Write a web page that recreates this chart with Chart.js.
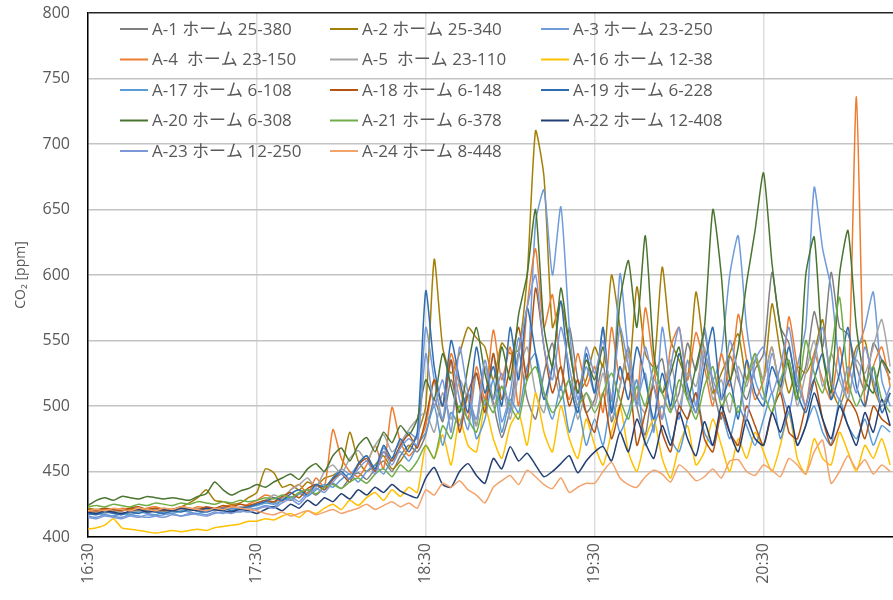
<!DOCTYPE html>
<html>
<head>
<meta charset="utf-8">
<script src="https://cdn.jsdelivr.net/npm/chart.js@4.4.1/dist/chart.umd.min.js"></script>
<style>
html,body{margin:0;padding:0;background:#fff;}
#wrap{width:893px;height:600px;position:relative;}
</style>
</head>
<body>
<div id="wrap"><canvas id="c" width="893" height="600"></canvas></div>
<script>
// time axis: minutes after 16:30, one reading every 3 minutes
const startLabel = "16:30";
const stepMinutes = 3;
const tickLabels = ["16:30", "17:30", "18:30", "19:30", "20:30"];

const seriesNames = [
  "A-1 ホーム 25-380", "A-2 ホーム 25-340", "A-3 ホーム 23-250",
  "A-4  ホーム 23-150", "A-5  ホーム 23-110", "A-16 ホーム 12-38",
  "A-17 ホーム 6-108", "A-18 ホーム 6-148", "A-19 ホーム 6-228",
  "A-20 ホーム 6-308", "A-21 ホーム 6-378", "A-22 ホーム 12-408",
  "A-23 ホーム 12-250", "A-24 ホーム 8-448"
];

const a1 = [420,421,420,419,421,420,420,421,419,420,421,422,420,421,422,421,422,423,422,424,
  425,427,426,430,428,433,436,432,438,441,437,445,449,444,452,458,450,462,470,465,
  478,505,488,520,496,510,485,530,502,476,498,541,506,490,525,548,512,560,520,495,
  505,532,488,515,545,500,478,522,536,497,510,548,527,556,515,490,538,520,505,528,
  540,602,560,548,515,530,572,545,602,560,555,530,512,548,535,520];
const a2 = [422,421,422,420,421,422,421,420,421,422,421,423,426,430,436,428,427,425,426,430,
  434,452,449,438,440,436,442,439,445,447,452,480,458,450,455,462,452,458,468,478,
  500,612,545,525,540,560,552,545,520,548,540,543,598,710,675,560,580,545,510,520,
  545,530,600,560,520,591,540,530,606,550,535,520,587,540,510,525,540,555,520,535,
  520,578,540,510,530,525,540,566,515,500,520,545,550,515,500,510];
const a3 = [416,415,417,416,415,417,416,415,416,417,418,416,417,418,417,419,418,420,419,421,
  422,424,423,428,431,427,434,440,436,445,452,448,455,462,450,468,458,470,480,475,
  560,520,490,535,505,482,525,500,540,488,510,552,520,640,665,600,652,560,505,530,
  510,560,495,601,540,505,525,480,560,515,490,535,500,560,520,540,600,630,560,520,
  505,540,515,495,530,560,667,620,590,530,505,540,560,587,520,500];
const a4 = [420,419,421,420,422,421,420,422,423,421,420,422,421,423,422,421,423,424,422,425,
  428,432,430,427,436,440,433,445,438,482,460,450,446,455,470,452,499,472,462,470,
  485,520,500,540,515,490,530,505,558,520,545,500,575,620,560,585,530,505,540,515,
  530,495,560,520,540,505,575,530,490,545,560,520,556,530,500,540,515,570,535,505,
  520,545,510,568,530,500,540,520,505,545,510,736,500,530,545,515];
const a5 = [418,419,418,420,419,418,420,419,421,420,419,421,420,422,421,420,422,421,423,422,
  425,428,432,430,436,440,445,438,450,455,448,460,466,458,470,478,465,472,482,490,
  495,480,510,490,520,505,485,530,500,515,490,525,545,510,495,530,505,520,490,510,
  500,525,490,515,540,505,495,520,510,535,500,525,515,545,505,520,495,530,515,540,
  520,545,510,535,500,525,550,515,540,520,505,535,525,545,566,530];
const a16 = [406,407,409,414,407,406,405,404,403,404,405,404,405,406,405,407,408,409,410,412,
  412,414,413,416,418,415,420,418,422,425,421,428,424,430,434,428,436,431,438,434,
  470,460,478,455,490,470,465,500,475,460,485,495,470,510,480,465,500,475,460,490,
  470,455,480,500,465,450,475,490,460,445,470,485,455,465,490,470,450,475,460,480,
  465,450,470,495,460,448,475,460,455,480,465,450,470,460,475,455];
const a17 = [417,418,417,416,418,417,419,418,417,419,418,420,419,418,420,421,420,422,421,423,
  424,426,425,428,430,433,431,436,440,438,444,448,442,450,455,448,460,465,458,470,
  480,500,470,495,485,510,475,490,520,480,505,495,530,540,510,490,515,480,500,470,
  490,470,505,480,495,520,470,485,500,475,465,490,510,480,470,495,475,500,485,470,
  490,510,475,495,470,485,500,480,470,505,485,475,490,470,485,480];
const a18 = [421,420,422,421,420,422,423,421,422,420,421,423,422,421,423,422,424,423,425,424,
  426,428,427,431,434,430,437,440,436,444,448,442,455,460,450,465,458,470,478,468,
  490,520,500,535,480,510,525,495,540,505,530,560,520,590,545,510,530,500,520,495,
  480,510,475,500,525,470,495,515,480,465,500,490,510,475,465,495,480,470,500,485,
  470,495,510,480,475,500,520,490,470,485,505,495,475,500,490,485];
const a19 = [418,417,419,418,417,419,418,420,419,418,420,419,421,420,419,421,422,420,422,423,
  425,427,430,428,433,436,432,440,438,445,450,444,456,462,452,470,460,475,465,480,
  588,530,500,550,520,495,545,510,530,500,560,520,575,540,505,530,580,520,495,540,
  510,560,495,530,505,545,520,490,525,500,540,515,495,530,560,505,520,490,535,510,
  500,530,515,545,510,495,520,540,505,525,560,515,500,530,495,510];
const a20 = [424,428,430,428,431,430,429,431,430,429,430,429,428,431,433,442,436,432,435,437,
  440,438,442,445,448,444,452,456,450,462,468,458,470,476,465,480,472,485,478,490,
  520,505,540,515,495,530,560,525,505,545,520,570,600,650,560,530,590,545,510,535,
  520,545,505,580,611,560,630,540,510,525,545,505,530,560,650,600,520,545,594,634,
  678,609,560,530,505,600,629,540,510,600,634,560,520,510,535,525];
const a21 = [423,424,423,425,424,423,425,424,426,425,424,426,425,427,426,425,427,426,428,427,
  428,430,429,432,430,434,436,433,438,440,437,442,445,441,448,452,446,455,450,458,
  470,460,485,475,500,490,480,505,495,515,500,490,520,530,510,495,505,520,500,510,
  495,510,525,505,490,515,500,530,510,495,520,505,490,515,530,500,510,495,520,540,
  510,495,520,535,505,550,525,510,540,583,520,500,515,530,505,495];
const a22 = [419,418,420,419,418,420,421,419,420,421,420,422,421,420,422,421,420,419,421,420,
  418,421,423,420,425,422,428,424,430,427,433,429,436,432,438,434,440,435,432,430,
  445,453,440,438,450,456,447,441,460,452,469,458,464,455,446,450,456,462,449,458,
  465,469,458,480,465,490,472,460,485,470,495,475,462,488,470,500,480,465,490,475,
  470,495,480,500,470,485,510,490,475,500,485,470,495,480,505,485];
const a23 = [415,414,416,415,414,416,415,417,416,415,417,416,418,417,416,418,419,418,420,419,
  421,423,422,426,429,425,432,437,434,442,448,444,452,458,448,465,455,468,475,470,
  540,500,520,480,545,510,490,535,505,525,495,540,575,600,545,520,560,530,500,545,
  525,550,505,560,530,500,545,515,490,530,560,510,495,540,520,505,550,525,490,535,
  545,510,530,560,520,500,535,560,520,505,530,510,545,520,500,515];
const a24 = [420,421,420,422,421,420,422,421,420,422,421,423,422,421,420,422,421,423,422,421,
  420,418,417,419,416,418,420,417,419,421,418,420,422,425,421,424,427,423,426,422,
  436,432,441,438,443,436,432,426,438,443,447,440,451,446,440,437,445,434,438,441,
  441,450,457,445,440,438,446,451,448,442,455,450,443,446,452,445,458,459,450,447,
  455,451,446,460,455,448,465,474,441,450,462,452,459,448,455,450];

const seriesValues = [a1,a2,a3,a4,a5,a16,a17,a18,a19,a20,a21,a22,a23,a24];

const seriesColors = ["#7f7f7f","#a57f05","#6f9bdb","#ed7d31","#a5a5a5","#ffc000","#5b9bd5",
  "#b4520f","#2e6db0","#4a7530","#70ad47","#233f73","#7c98d6","#f3a36c"];

const FONT = "'Open Sans', 'Noto Sans CJK JP', sans-serif";

const datasets = seriesValues.map((vals, i) => ({
  label: seriesNames[i],
  data: vals.map((v, k) => ({x: k * stepMinutes, y: v})),
  borderColor: seriesColors[i],
  backgroundColor: seriesColors[i],
  borderWidth: 1.5,
  pointRadius: 0,
  tension: 0.2,
  fill: false,
  order: -i
}));

const legendPlugin = {
  id: 'gridLegend',
  afterDraw(chart) {
    const ctx = chart.ctx;
    const colX = [120, 330, 541];
    const rowY = [29, 59.5, 90, 120.5, 151];
    ctx.save();
    ctx.font = "17px " + FONT;
    ctx.textBaseline = 'middle';
    ctx.textAlign = 'left';
    chart.data.datasets.forEach((ds, i) => {
      const cx = colX[i % 3], cy = rowY[Math.floor(i / 3)];
      ctx.strokeStyle = ds.borderColor;
      ctx.lineWidth = 2;
      ctx.beginPath();
      ctx.moveTo(cx, cy);
      ctx.lineTo(cx + 28, cy);
      ctx.stroke();
      ctx.fillStyle = '#595959';
      ctx.fillText(ds.label, cx + 32, cy + 1);
    });
    ctx.restore();
  }
};

new Chart(document.getElementById('c'), {
  type: 'line',
  data: { datasets },
  plugins: [legendPlugin],
  options: {
    responsive: false,
    animation: false,
    layout: { padding: { top: 13, right: 0, left: 0, bottom: 0 } },
    plugins: { legend: { display: false }, tooltip: { enabled: false } },
    scales: {
      x: {
        type: 'linear',
        min: 0,
        max: 286,
        afterFit(s) { s.height = 63; },
        ticks: {
          stepSize: 60,
          includeBounds: false,
          autoSkip: false,
          minRotation: 90,
          maxRotation: 90,
          padding: 6,
          color: '#595959',
          font: { family: FONT, size: 16 },
          callback: (v) => (v % 60 === 0 && v / 60 < tickLabels.length) ? tickLabels[v / 60] : ''
        },
        grid: { color: '#dedede', lineWidth: 1.5, drawTicks: false },
        border: { color: '#000', width: 1.5 }
      },
      y: {
        min: 400,
        max: 800,
        afterFit(s) { s.width = 88; },
        ticks: {
          stepSize: 50,
          padding: 0,
          color: '#595959',
          font: { family: FONT, size: 16 }
        },
        grid: {
          color: (c) => c.tick && c.tick.value === 800 ? '#262626' : '#c4c4c4',
          lineWidth: 1.5,
          drawTicks: true,
          tickLength: 18,
          tickColor: 'rgba(0,0,0,0)'
        },
        border: { color: '#000', width: 1.5 },
        title: {
          display: true,
          text: 'CO₂ [ppm]',
          color: '#595959',
          font: { family: FONT, size: 14 },
          padding: { top: 13, bottom: 0 }
        }
      }
    }
  }
});
</script>
</body>
</html>
